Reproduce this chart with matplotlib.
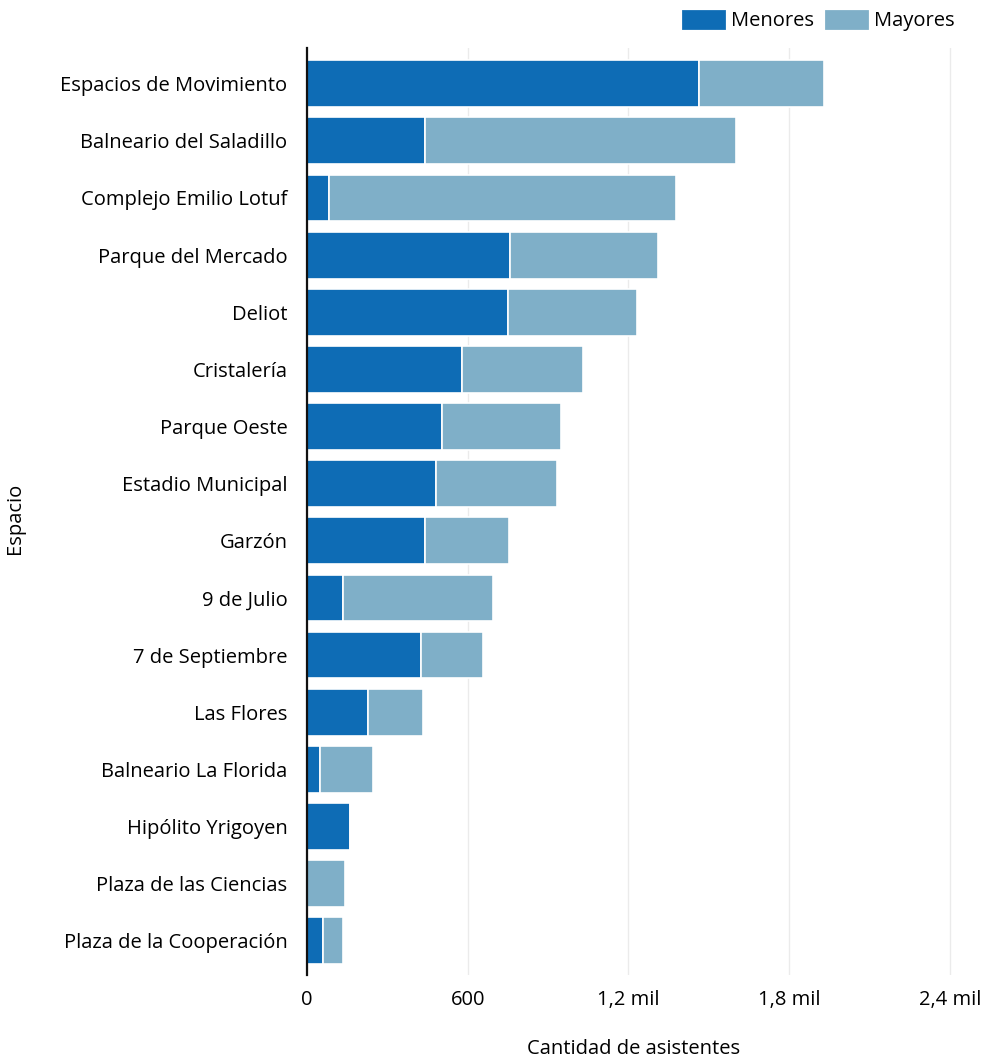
import numpy as np
import matplotlib.pyplot as plt
from matplotlib.patches import Patch
from matplotlib.ticker import FuncFormatter

plt.rcParams['font.family'] = ['Open Sans', 'DejaVu Sans']

espacios = ['Espacios de Movimiento', 'Balneario del Saladillo', 'Complejo Emilio Lotuf',
            'Parque del Mercado', 'Deliot', 'Cristalería', 'Parque Oeste',
            'Estadio Municipal', 'Garzón', '9 de Julio', '7 de Septiembre',
            'Las Flores', 'Balneario La Florida', 'Hipólito Yrigoyen',
            'Plaza de las Ciencias', 'Plaza de la Cooperación']
menores = [1465, 440, 82, 757, 749, 578, 503, 481, 440, 134, 425, 227, 48, 160, 0, 60]
mayores = [466, 1163, 1297, 555, 481, 451, 447, 454, 313, 559, 231, 205, 198, 0, 142, 74]
ticks = [0, 600, 1200, 1800, 2400]

c_men = '#0e6cb5'
c_may = '#7fafc8'
fs = 14.5

fig = plt.figure(figsize=(9.98, 10.58), dpi=100)
ax = fig.add_axes([0.3076, 0.0784, 0.655, 0.876])

y = np.arange(len(espacios))
men = np.array(menores)
may = np.array(mayores)
ax.barh(y, men, height=0.82, color=c_men, edgecolor='white', linewidth=1.2)
ax.barh(y, may, left=men, height=0.82, color=c_may, edgecolor='white', linewidth=1.2)

ax.set_ylim(15.6, -0.62)
ax.set_xlim(0, 2440)
ax.set_yticks(y)
ax.set_yticklabels(espacios, fontsize=fs)
ax.set_xticks(ticks)


def fmt(v, pos):
    if v >= 1000:
        return f'{v/1000:.1f} mil'.replace('.', ',')
    return f'{v:.0f}'


ax.xaxis.set_major_formatter(FuncFormatter(fmt))
ax.tick_params(axis='x', length=0, labelsize=fs, pad=11)
ax.tick_params(axis='y', length=0, pad=14)
ax.grid(axis='x', color='#ebebeb', linewidth=1)
ax.set_axisbelow(True)
for s in ['top', 'right', 'bottom']:
    ax.spines[s].set_visible(False)
ax.spines['left'].set_color('#111111')
ax.spines['left'].set_linewidth(1.6)

ax.set_xlabel('Cantidad de asistentes', fontsize=fs, labelpad=21)
fig.text(0.015, 0.51, 'Espacio', rotation=90, fontsize=fs, va='center', ha='center')

handles = [Patch(facecolor=c_men, edgecolor=c_men, linewidth=2, joinstyle='round', label='Menores'),
           Patch(facecolor=c_may, edgecolor=c_may, linewidth=2, joinstyle='round', label='Mayores')]
fig.legend(handles=handles, loc='upper right', bbox_to_anchor=(0.975, 1.007), ncol=2,
           frameon=False, fontsize=fs, handlelength=2.05, handleheight=0.95,
           handletextpad=0.35, columnspacing=0.6)

fig.savefig('out.png', dpi=100)
